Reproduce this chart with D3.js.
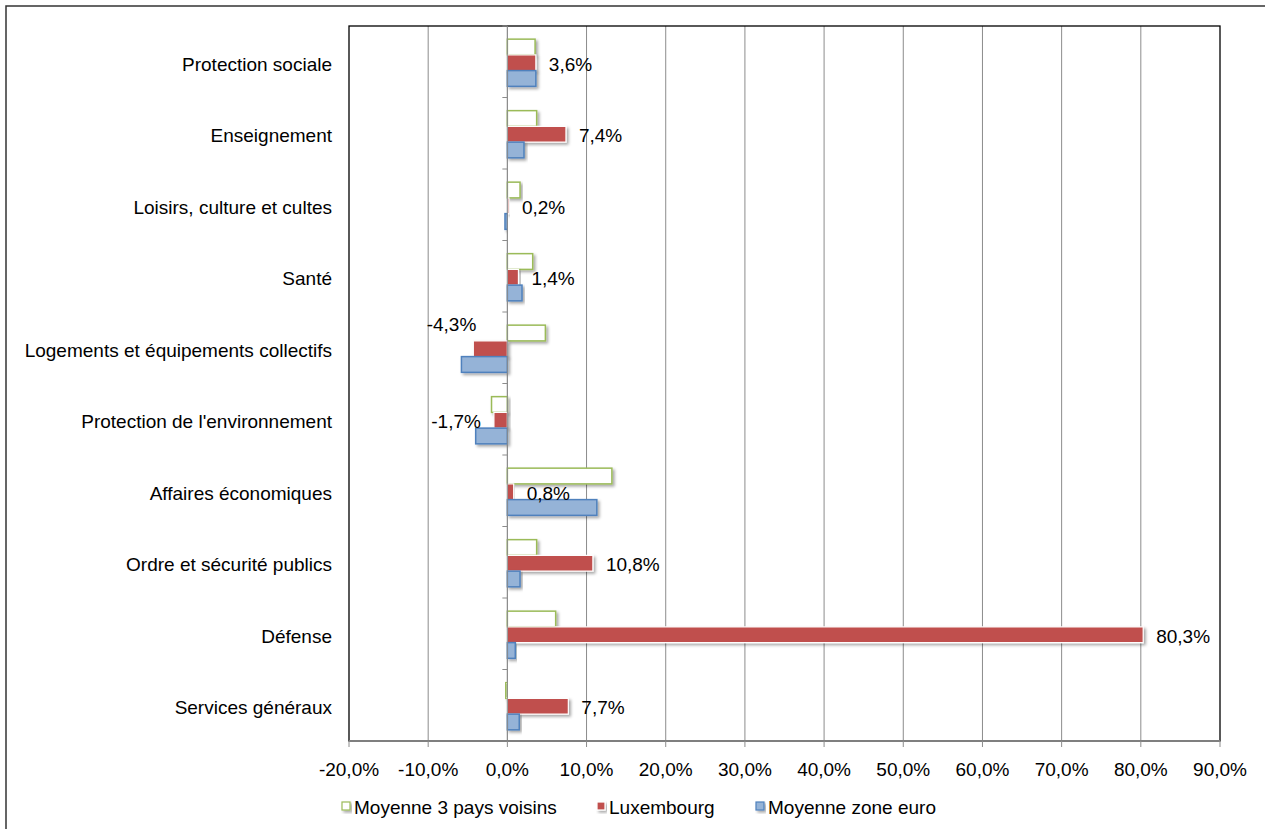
<!DOCTYPE html>
<html>
<head>
<meta charset="utf-8">
<script src="https://cdn.jsdelivr.net/npm/d3@7"></script>
<style>
  body { margin: 0; background: #fff; }
  svg text { font-family: "Liberation Sans", Arial, sans-serif; fill: #000; }
</style>
</head>
<body>
<div id="chart"></div>
<script>
const categories = [
    "Protection sociale",
    "Enseignement",
    "Loisirs, culture et cultes",
    "Santé",
    "Logements et équipements collectifs",
    "Protection de l'environnement",
    "Affaires économiques",
    "Ordre et sécurité publics",
    "Défense",
    "Services généraux"
];
const seriesNames = ["Moyenne 3 pays voisins", "Luxembourg", "Moyenne zone euro"];
const voisins = [3.5, 3.7, 1.6, 3.2, 4.8, -2.0, 13.2, 3.7, 6.1, -0.2];
const luxembourg = [3.6, 7.4, 0.2, 1.4, -4.3, -1.7, 0.8, 10.8, 80.3, 7.7];
const zoneEuro = [3.6, 2.1, -0.3, 1.85, -5.8, -4.0, 11.3, 1.6, 1.0, 1.5];
const xTicks = [-20, -10, 0, 10, 20, 30, 40, 50, 60, 70, 80, 90];

function makeChart() {
    const width = 1265,
        height = 829,
        left = 349, right = 1220,
        top = 26, bottom = 741,
        fontSize = '19px';

    const fmt = v => d3.format(".1f")(v).replace(".", ",").replace("\u2212", "-") + "%";

    let svg = d3.select('#chart').append('svg')
        .attr('width', width)
        .attr('height', height);

    let defs = svg.append('defs');
    let f = defs.append('filter').attr('id', 'shadow')
        .attr('x', '-10%').attr('y', '-30%').attr('width', '130%').attr('height', '180%');
    f.append('feDropShadow').attr('dx', 2).attr('dy', 2).attr('stdDeviation', 1.5)
        .attr('flood-color', '#000').attr('flood-opacity', 0.35);

    // outer frame
    svg.append('rect')
        .attr('x', 6).attr('y', 6)
        .attr('width', width + 20).attr('height', height + 20)
        .attr('fill', 'none').attr('stroke', '#333').attr('stroke-width', 1.5);

    let x = d3.scaleLinear().domain([-20, 90]).range([left, right]);
    let y = d3.scaleBand().domain(categories).range([top, bottom]).paddingInner(0.34).paddingOuter(0.17);
    let ySub = d3.scaleBand().domain(seriesNames).range([0, y.bandwidth()]);

    const data = categories.map((c, i) => ({
        name: c,
        values: [voisins[i], luxembourg[i], zoneEuro[i]]
    }));

    // gridlines
    svg.append('g').selectAll('line')
        .data(xTicks.filter(d => d > -20 && d < 90))
        .enter().append('line')
        .attr('x1', d => x(d)).attr('x2', d => x(d))
        .attr('y1', top).attr('y2', bottom)
        .attr('stroke', '#8c8c8c').attr('stroke-width', 1);

    // plot border
    svg.append('rect')
        .attr('x', left).attr('y', top)
        .attr('width', right - left).attr('height', bottom - top)
        .attr('fill', 'none').attr('stroke', '#000').attr('stroke-width', 1.3);

    const styles = [
        { fill: '#fff', stroke: '#9bbb59', sw: 1.5 },
        { fill: '#c0504d', stroke: '#fff', sw: 1.2 },
        { fill: '#95b3d7', stroke: '#4f81bd', sw: 1.5 }
    ];

    // bars
    let groups = svg.append('g').selectAll('g')
        .data(data)
        .enter().append('g')
        .attr('transform', d => 'translate(0,' + (y(d.name) + 1) + ')');

    groups.selectAll('rect')
        .data(d => d.values.map((v, k) => ({ v: v, k: k })))
        .enter().append('rect')
        .attr('x', d => x(Math.min(0, d.v)))
        .attr('y', d => ySub(seriesNames[d.k]))
        .attr('width', d => Math.abs(x(d.v) - x(0)))
        .attr('height', ySub.bandwidth())
        .attr('fill', d => styles[d.k].fill)
        .attr('stroke', d => styles[d.k].stroke)
        .attr('stroke-width', d => styles[d.k].sw)
        .attr('filter', 'url(#shadow)');

    // y axis at zero
    let yAxis = svg.append('g');
    yAxis.append('line')
        .attr('x1', x(0)).attr('x2', x(0))
        .attr('y1', top).attr('y2', bottom)
        .attr('stroke', '#8c8c8c').attr('stroke-width', 1);
    yAxis.selectAll('.tk')
        .data(d3.range(categories.length + 1))
        .enter().append('line')
        .attr('x1', x(0) - 5).attr('x2', x(0))
        .attr('y1', i => top + i * y.step()).attr('y2', i => top + i * y.step())
        .attr('stroke', '#8c8c8c');

    // x axis
    let xAxis = svg.append('g');
    xAxis.append('line')
        .attr('x1', left).attr('x2', right)
        .attr('y1', bottom).attr('y2', bottom)
        .attr('stroke', '#7f7f7f').attr('stroke-width', 2);
    xAxis.selectAll('.tk')
        .data(xTicks)
        .enter().append('line')
        .attr('x1', d => x(d)).attr('x2', d => x(d))
        .attr('y1', bottom).attr('y2', bottom + 6)
        .attr('stroke', '#8c8c8c');
    xAxis.selectAll('text')
        .data(xTicks)
        .enter().append('text')
        .attr('x', d => x(d)).attr('y', bottom + 35)
        .attr('text-anchor', 'middle')
        .style('font-size', fontSize)
        .text(d => fmt(d));

    // category labels
    svg.append('g').selectAll('text')
        .data(categories)
        .enter().append('text')
        .attr('x', 332)
        .attr('y', d => y(d) + y.bandwidth() / 2 + 9)
        .attr('text-anchor', 'end')
        .style('font-size', fontSize)
        .text(d => d);

    // data labels (Luxembourg)
    const nudge = { "Logements et équipements collectifs": [16, -26] };
    svg.append('g').selectAll('text')
        .data(data)
        .enter().append('text')
        .attr('x', d => {
            const v = d.values[1];
            const n = nudge[d.name] ? nudge[d.name][0] : 0;
            return (v >= 0 ? x(v) + 13 : x(v) - 13) + n;
        })
        .attr('y', d => y(d.name) + y.bandwidth() / 2 + 9 + (nudge[d.name] ? nudge[d.name][1] : 0))
        .attr('text-anchor', d => d.values[1] >= 0 ? 'start' : 'end')
        .style('font-size', fontSize)
        .text(d => fmt(d.values[1]));

    // legend
    const legendX = [342, 597, 756];
    let legend = svg.append('g').selectAll('g')
        .data(seriesNames)
        .enter().append('g')
        .attr('transform', (d, i) => 'translate(' + legendX[i] + ',' + 802 + ')');
    legend.append('rect')
        .attr('width', 8).attr('height', 8)
        .attr('fill', (d, i) => styles[i].fill)
        .attr('stroke', (d, i) => i === 1 ? '#fff' : styles[i].stroke)
        .attr('stroke-width', 1.2)
        .attr('filter', 'url(#shadow)');
    legend.append('text')
        .attr('x', 12).attr('y', 12)
        .style('font-size', fontSize)
        .text(d => d);
}

makeChart();
</script>
</body>
</html>
